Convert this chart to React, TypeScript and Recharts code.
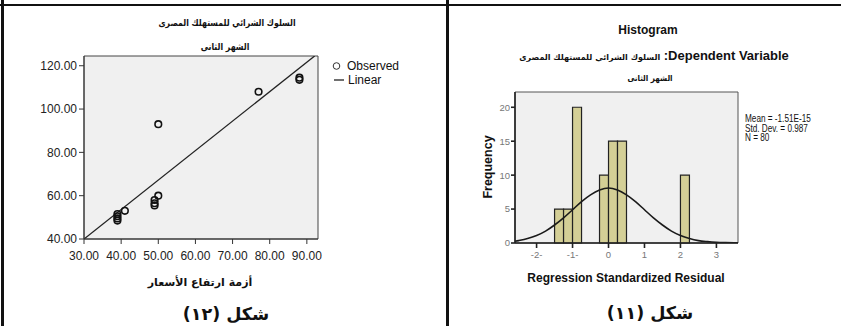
import React from "react";
import { ComposedChart, XAxis, YAxis, Line, Scatter, ReferenceArea } from "recharts";

// شكل (١٢): observed points and the linear fit
const priceCrisis = [88, 88, 77, 50, 50, 49, 49, 49, 41, 39, 39, 39, 39];
const buyingBehaviour = [114.5, 113.5, 108, 93, 60, 58, 56.5, 55.5, 53, 51.5, 50.5, 49.5, 48.5];
const fitX = [30, 92.1];
const fitY = [40, 124.5];
const scatterXTicks = [30, 40, 50, 60, 70, 80, 90];
const scatterYTicks = [40, 60, 80, 100, 120];

// شكل (١١): residual histogram and normal curve
const binStarts = [-1.5, -1.25, -1, -0.25, 0, 0.25, 2];
const binCounts = [5, 5, 20, 10, 15, 15, 10];
const binWidth = 0.25;
const curveX = [-2.6, -2.5, -2.25, -2, -1.75, -1.5, -1.25, -1, -0.75, -0.5, -0.25, 0, 0.25, 0.5, 0.75, 1, 1.25, 1.5, 1.75, 2, 2.25, 2.5, 2.75, 3, 3.25, 3.6];
const curveY = [0.25, 0.35, 0.65, 1.1, 1.75, 2.65, 3.7, 4.9, 6.1, 7.1, 7.8, 8.1, 7.8, 7.1, 6.1, 4.9, 3.7, 2.65, 1.75, 1.1, 0.65, 0.35, 0.2, 0.1, 0.05, 0.02];
const residTicks = [-2, -1, 0, 1, 2, 3];
const freqTicks = [0, 5, 10, 15, 20];

const observed = priceCrisis.map((x, i) => ({ x, y: buyingBehaviour[i] }));
const fitLine = fitX.map((x, i) => ({ x, y: fitY[i] }));
const curve = curveX.map((x, i) => ({ x, y: curveY[i] }));

const ARABIC = "'DejaVu Sans', sans-serif";
const SANS = "'Liberation Sans', Arial, sans-serif";

function T({ x, y, size, bold, font, dir, children, left, sx = 1 }: any) {
  return (
    <div
      dir={dir}
      style={{
        position: "absolute",
        left: x,
        top: y,
        transform: (left ? "translate(0,-50%)" : "translate(-50%,-50%)") + ` scaleX(${sx})`,
        transformOrigin: left ? "0 50%" : "50% 50%",
        fontSize: size,
        fontWeight: bold ? "bold" : "normal",
        fontFamily: font,
        whiteSpace: "nowrap",
        lineHeight: 1,
        color: "#111",
      }}
    >
      {children}
    </div>
  );
}

const ring = (props: any) => (
  <circle cx={props.cx} cy={props.cy} r={3.3} fill="none" stroke="#111" strokeWidth={1.6} />
);

function ScatterPanel() {
  const tick = { fontSize: 12, fill: "#222", fontFamily: SANS };
  return (
    <div style={{ position: "absolute", left: 0, top: 0 }}>
      <ComposedChart width={420} height={300} margin={{ top: 56, right: 102, bottom: 31, left: 34 }}>
        <XAxis
          type="number"
          dataKey="x"
          domain={[30, 93]}
          ticks={scatterXTicks}
          tickFormatter={(v: number) => v.toFixed(2)}
          allowDataOverflow
          height={30}
          tick={tick}
          tickSize={5}
          tickMargin={7}
          stroke="#333"
        />
        <YAxis
          type="number"
          dataKey="y"
          domain={[40, 124.5]}
          ticks={scatterYTicks}
          tickFormatter={(v: number) => v.toFixed(2)}
          allowDataOverflow
          width={50}
          tick={tick}
          tickSize={5}
          stroke="#333"
        />
        <ReferenceArea x1={30} x2={93} y1={40} y2={124.5} fill="#f0f0f0" fillOpacity={1} stroke="#444" />
        <Line data={fitLine} dataKey="y" stroke="#222" strokeWidth={1.3} dot={false} isAnimationActive={false} />
        <Scatter data={observed} shape={ring} isAnimationActive={false} />
      </ComposedChart>
    </div>
  );
}

function HistogramPanel() {
  const tick = { fontSize: 9.5, fill: "#777", fontFamily: SANS };
  return (
    <div style={{ position: "absolute", left: 420, top: 0 }}>
      <ComposedChart width={421} height={300} margin={{ top: 92, right: 103, bottom: 32, left: 55 }}>
        <XAxis
          type="number"
          dataKey="x"
          domain={[-2.6, 3.6]}
          ticks={residTicks}
          tickFormatter={(v: number) => (v < 0 ? `-${-v}-` : `${v}`)}
          allowDataOverflow
          height={25}
          tick={tick}
          tickSize={5}
          tickMargin={3}
          stroke="#222"
          strokeWidth={1.6}
        />
        <YAxis
          type="number"
          dataKey="y"
          domain={[0, 22.25]}
          ticks={freqTicks}
          allowDataOverflow
          width={40}
          tick={tick}
          tickSize={4}
          tickMargin={1}
          stroke="#222"
          strokeWidth={1.6}
        />
        <ReferenceArea x1={-2.6} x2={3.6} y1={0} y2={22.25} fill="#f0f0f0" fillOpacity={1} stroke="#555" />
        {binStarts.map((s, i) => (
          <ReferenceArea
            key={i}
            x1={s}
            x2={s + binWidth}
            y1={0}
            y2={binCounts[i]}
            fill="#d4cf96"
            fillOpacity={1}
            stroke="#222"
            strokeWidth={1.2}
          />
        ))}
        <Line data={curve} dataKey="y" type="monotone" stroke="#1a1a1a" strokeWidth={1.6} dot={false} isAnimationActive={false} />
      </ComposedChart>
    </div>
  );
}

export default function App() {
  return (
    <div style={{ position: "absolute", left: 0, top: 0, width: 841, height: 326, background: "#fff", overflow: "hidden" }}>
      {/* table rules */}
      <div style={{ position: "absolute", left: 0, top: 4, width: 841, height: 2, background: "#111" }} />
      <div style={{ position: "absolute", left: 1, top: 0, width: 3, height: 326, background: "#111" }} />
      <div style={{ position: "absolute", left: 446, top: 0, width: 2.5, height: 326, background: "#111" }} />

      <ScatterPanel />
      <HistogramPanel />

      {/* left panel texts */}
      <T x={227} y={23} size={9.5} sx={0.82} bold font={ARABIC} dir="rtl">السلوك الشرائي للمستهلك المصرى</T>
      <T x={225} y={47} size={9.5} sx={0.82} bold font={ARABIC} dir="rtl">الشهر الثانى</T>
      <svg style={{ position: "absolute", left: 330, top: 60 }} width={14} height={26}>
        <circle cx={6.5} cy={6} r={3.3} fill="none" stroke="#333" strokeWidth={1} />
        <line x1={4} y1={20} x2={18} y2={20} stroke="#222" strokeWidth={1.3} />
      </svg>
      <T x={347} y={66} size={12} font={SANS} left>Observed</T>
      <T x={348} y={80} size={12} font={SANS} left>Linear</T>
      <T x={200} y={282} size={11} bold font={ARABIC} dir="rtl">أزمة ارتفاع الأسعار</T>
      <T x={226} y={315} size={17.5} bold font={ARABIC} dir="rtl">شكل (١٢)</T>

      {/* right panel texts */}
      <T x={648} y={30} size={12} bold font={SANS}>Histogram</T>
      <T x={654} y={55} size={13} bold font={SANS} dir="rtl">
        Dependent Variable: <span style={{ fontFamily: ARABIC, fontSize: 8 }}>السلوك الشرائي للمستهلك المصرى</span>
      </T>
      <T x={650} y={78} size={8.5} sx={0.85} bold font={ARABIC} dir="rtl">الشهر الثانى</T>
      <div
        style={{
          position: "absolute",
          left: 488,
          top: 167,
          transform: "translate(-50%,-50%) rotate(-90deg)",
          fontSize: 12.5,
          fontWeight: "bold",
          fontFamily: SANS,
          whiteSpace: "nowrap",
          lineHeight: 1,
          color: "#111",
        }}
      >
        Frequency
      </div>
      <div
        style={{
          position: "absolute",
          left: 745,
          top: 114,
          fontSize: 10.5,
          lineHeight: "9.5px",
          fontFamily: SANS,
          color: "#111",
          whiteSpace: "pre",
          transform: "scaleX(0.78)",
          transformOrigin: "0 0",
        }}
      >
        {"Mean = -1.51E-15\nStd. Dev. = 0.987\nN = 80"}
      </div>
      <T x={626} y={278} size={12} bold font={SANS}>Regression Standardized Residual</T>
      <T x={650} y={314} size={17.5} bold font={ARABIC} dir="rtl">شكل (١١)</T>
    </div>
  );
}
